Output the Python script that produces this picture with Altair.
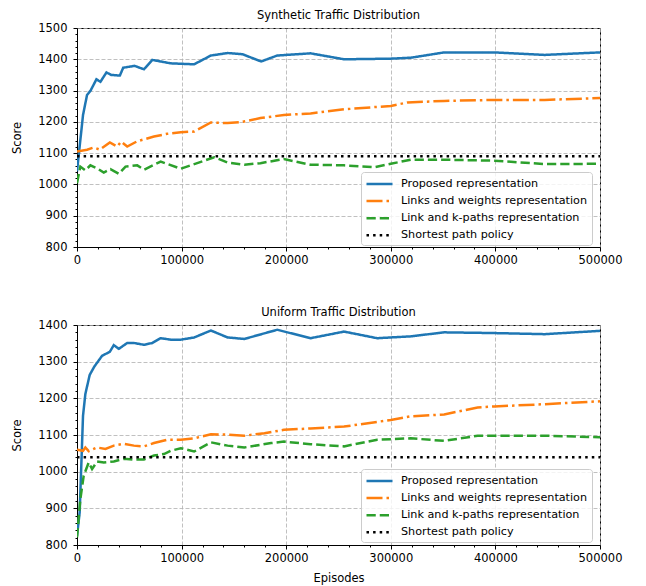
import altair as alt
import pandas as pd

SERIES = ["Proposed representation", "Links and weights representation",
          "Link and k-paths representation", "Shortest path policy"]
COLORS = ["#1f77b4", "#ff7f0e", "#2ca02c", "#000000"]
DASHES = [[1, 0], [16, 4, 2.5, 4], [9.25, 4], [2.5, 4.1]]

# ---- Synthetic traffic distribution (top panel) ----
syn_prop_x = [0, 5760, 9600, 13000, 18560, 22400, 28160, 32640, 40960, 44160, 55040, 64000, 72000,
              89600, 112000, 128000, 144000, 158400, 176000, 191400, 223300, 255300, 300000,
              319200, 351100, 399000, 447000, 500000]
syn_prop_y = [1042, 1222, 1286, 1300, 1336, 1328, 1358, 1350, 1348, 1373, 1379, 1368, 1398,
              1387, 1384, 1412, 1420, 1416, 1393, 1412, 1419, 1400, 1402,
              1405, 1422, 1422, 1414, 1422]
syn_lw_x = [0, 9600, 16000, 21800, 31400, 38400, 42200, 48000, 57600, 73600, 86400, 99200, 112000,
            128000, 144000, 156800, 175400, 197800, 223300, 255300, 300000, 316000, 351000,
            399000, 447000, 500000]
syn_lw_y = [1105, 1111, 1118, 1111, 1134, 1121, 1137, 1121, 1138, 1153, 1162, 1167, 1169,
            1198, 1196, 1199, 1212, 1222, 1227, 1240, 1251, 1262, 1267,
            1270, 1270, 1276]
syn_kp_x = [0, 3200, 8000, 12800, 19000, 25600, 32000, 40000, 46400, 57600, 64000, 80000, 99200,
            131200, 144000, 160000, 175400, 197800, 223300, 255300, 284000, 300000, 319000,
            351000, 399000, 447000, 500000]
syn_kp_y = [1004, 1057, 1045, 1061, 1052, 1038, 1049, 1034, 1057, 1061, 1047, 1073, 1050,
            1087, 1070, 1063, 1068, 1081, 1063, 1061, 1055, 1066, 1079,
            1079, 1076, 1065, 1066]
syn_sp_x = [0, 500000]
syn_sp_y = [1090, 1090]

# ---- Uniform traffic distribution (bottom panel) ----
uni_prop_x = [0, 2560, 5760, 8000, 12160, 16640, 24000, 31360, 35200, 40000, 48000, 54400, 64000,
              72000, 80000, 89600, 99200, 112000, 128000, 144000, 160000, 191400, 223300,
              255300, 287000, 319000, 351000, 399000, 447000, 500000]
uni_prop_y = [825, 889, 1153, 1212, 1264, 1287, 1316, 1327, 1345, 1335, 1351, 1351, 1346,
              1351, 1364, 1360, 1360, 1366, 1385, 1366, 1362, 1387, 1364,
              1382, 1364, 1369, 1380, 1378, 1375, 1384]
uni_lw_x = [0, 5760, 8000, 11200, 19000, 27200, 35200, 44800, 54400, 64000, 73600, 86400, 99200,
            112000, 128000, 144000, 160000, 179200, 197800, 223300, 255300, 300000, 319000,
            351000, 383000, 399000, 447000, 500000]
uni_lw_y = [1060, 1057, 1066, 1056, 1066, 1062, 1071, 1076, 1071, 1069, 1078, 1087, 1087,
            1091, 1102, 1101, 1098, 1105, 1114, 1118, 1123, 1141, 1151,
            1156, 1175, 1178, 1184, 1192]
uni_kp_x = [0, 3200, 6400, 11200, 14400, 19200, 25600, 35200, 44800, 54400, 64000, 73600, 83200,
            89600, 99200, 112000, 128000, 144000, 160000, 185600, 197800, 223300, 255300,
            287000, 319000, 351000, 383000, 447000, 500000]
uni_kp_y = [821, 925, 989, 1025, 1007, 1028, 1025, 1028, 1035, 1033, 1033, 1044, 1048,
            1057, 1064, 1055, 1080, 1071, 1066, 1078, 1082, 1075, 1069,
            1087, 1091, 1084, 1098, 1098, 1094]
uni_sp_x = [0, 500000]
uni_sp_y = [1039, 1039]

FONT = "DejaVu Sans"


def make_df(groups):
    rows = []
    for name, xs, ys in groups:
        for x, y in zip(xs, ys):
            rows.append({"series": name, "episodes": x, "score": y})
    return pd.DataFrame(rows)


def panel(title, df, ymin, ymax, height, xtitle):
    xaxis = alt.Axis(
        values=list(range(0, 500001, 20000)), format="d",
        labelExpr="datum.value % 100000 === 0 ? datum.label : ''",
        labelOverlap=False, labelFlush=False,
        tickSize={"condition": {"test": "datum.value % 100000 === 0", "value": 4}, "value": 2},
        gridOpacity={"condition": {"test": "datum.value % 100000 === 0", "value": 1}, "value": 0},
        title=xtitle, labelPadding=3, titlePadding=9,
    )
    yaxis = alt.Axis(
        values=list(range(ymin, ymax + 1, 20)), format="d",
        labelExpr="datum.value % 100 === 0 ? datum.label : ''",
        labelOverlap=False, labelFlush=False,
        tickSize={"condition": {"test": "datum.value % 100 === 0", "value": 4}, "value": 2},
        gridOpacity={"condition": {"test": "datum.value % 100 === 0", "value": 1}, "value": 0},
        title="Score", labelPadding=6, titlePadding=15,
    )
    legend = alt.Legend(title=None, orient="none", legendX=284, legendY=144)
    return alt.Chart(df).mark_line(strokeWidth=2.5, clip=True).encode(
        x=alt.X("episodes:Q", scale=alt.Scale(domain=[0, 500000], nice=False), axis=xaxis),
        y=alt.Y("score:Q", scale=alt.Scale(domain=[ymin, ymax], nice=False, zero=False), axis=yaxis),
        color=alt.Color("series:N", scale=alt.Scale(domain=SERIES, range=COLORS), legend=legend,
                        sort=SERIES),
        strokeDash=alt.StrokeDash("series:N", scale=alt.Scale(domain=SERIES, range=DASHES),
                                  legend=legend, sort=SERIES),
        order=alt.Order("episodes:Q"),
    ).properties(
        width=523, height=height,
        title=alt.TitleParams(title, fontSize=11.5, font=FONT, fontWeight="normal",
                              anchor="middle", offset=1, color="black"),
    )


top_df = make_df([(SERIES[0], syn_prop_x, syn_prop_y), (SERIES[1], syn_lw_x, syn_lw_y),
                  (SERIES[2], syn_kp_x, syn_kp_y), (SERIES[3], syn_sp_x, syn_sp_y)])
bot_df = make_df([(SERIES[0], uni_prop_x, uni_prop_y), (SERIES[1], uni_lw_x, uni_lw_y),
                  (SERIES[2], uni_kp_x, uni_kp_y), (SERIES[3], uni_sp_x, uni_sp_y)])

top = panel("Synthetic Traffic Distribution", top_df, 800, 1500, 219, None)
bot = panel("Uniform Traffic Distribution", bot_df, 800, 1400, 220, "Episodes")

chart = alt.vconcat(top, bot, spacing=40).resolve_scale(
    y="independent"
).resolve_legend(
    color="independent", strokeDash="independent"
).properties(
    padding={"left": 3, "top": 1, "right": 5, "bottom": 2}
).configure_view(
    stroke="black", strokeWidth=1
).configure_axis(
    domainColor="black", tickColor="black", labelColor="black", titleColor="black",
    labelFont=FONT, titleFont=FONT, labelFontSize=11.5, titleFontSize=11.5,
    titleFontWeight="normal", gridColor="#b0b0b0", gridDash=[4, 2], gridWidth=0.8,
    domainWidth=1, tickWidth=1,
).configure_legend(
    fillColor="rgba(255,255,255,0.8)", strokeColor="#cccccc", cornerRadius=3, padding=4,
    labelFont=FONT, labelFontSize=11.2, labelColor="black", labelLimit=300,
    symbolType="M-1,0H3", symbolSize=169, symbolStrokeWidth=2.5, rowPadding=3.1,
    labelOffset=20,
)

chart.save("out.html", embed_options={"renderer": "svg", "actions": False})
